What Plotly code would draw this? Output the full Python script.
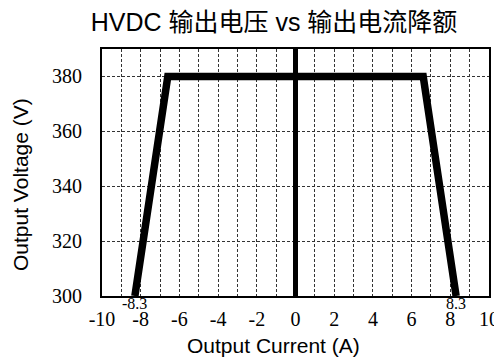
import plotly.graph_objects as go

current = [-8.3, -6.6, 6.6, 8.3]
voltage = [300, 380, 380, 300]
zero_x = [0, 0]
zero_y = [300, 390]
x_ticks = [-10, -8, -6, -4, -2, 0, 2, 4, 6, 8, 10]
y_ticks = [300, 320, 340, 360, 380]
limit_labels = ["-8.3", "8.3"]
limit_x = [-8.3, 8.3]

SERIF = "Liberation Serif, Times New Roman, serif"
SANS = "Arial, Liberation Sans, Noto Sans CJK SC, sans-serif"

fig = go.Figure()
fig.add_trace(go.Scatter(x=zero_x, y=zero_y, mode="lines",
                         line=dict(color="black", width=5), showlegend=False))
fig.add_trace(go.Scatter(x=current, y=voltage, mode="lines",
                         line=dict(color="black", width=7.5), showlegend=False))

for lx, lt in zip(limit_x, limit_labels):
    fig.add_annotation(x=lx, y=0, xref="x", yref="paper", text=lt, showarrow=False,
                       yanchor="top", yshift=3,
                       font=dict(family=SERIF, size=16, color="black"))

fig.add_annotation(x=0.443, y=-0.2024, xref="paper", yref="paper", text="Output Current (A)",
                   showarrow=False, xanchor="center", yanchor="middle",
                   font=dict(family=SANS, size=21, color="black"))
fig.add_annotation(x=-0.2119, y=0.4534, xref="paper", yref="paper", text="Output Voltage (V)",
                   showarrow=False, xanchor="center", yanchor="middle", textangle=-90,
                   font=dict(family=SANS, size=21, color="black"))

grid = dict(gridcolor="#333333", griddash="3px,2px", gridwidth=1)

fig.update_layout(
    width=494, height=351,
    margin=dict(l=94, r=13, t=41, b=63, autoexpand=False),
    paper_bgcolor="white", plot_bgcolor="white",
    title=dict(text="HVDC 输出电压 vs 输出电流降额", x=266 / 494, xanchor="center",
               y=1 - 14 / 351, yanchor="middle", xref="container", yref="container",
               font=dict(family=SANS, size=25, color="black")),
    xaxis=dict(range=[-10, 10], tickvals=x_ticks, ticktext=[str(v) for v in x_ticks],
               showgrid=True, **grid,
               minor=dict(dtick=1, tick0=-10, showgrid=True, **grid),
               zeroline=False, showline=True, linecolor="black", linewidth=2, mirror=True,
               ticks="", automargin=False, ticklabelstandoff=4,
               tickfont=dict(family=SERIF, size=20, color="black")),
    yaxis=dict(range=[300, 390], tickvals=y_ticks,
               showgrid=True, **grid,
               zeroline=False, showline=True, linecolor="black", linewidth=2, mirror=True,
               ticks="", automargin=False, ticklabelstandoff=14,
               tickfont=dict(family=SERIF, size=20, color="black")),
)

fig.write_html("out.html")
